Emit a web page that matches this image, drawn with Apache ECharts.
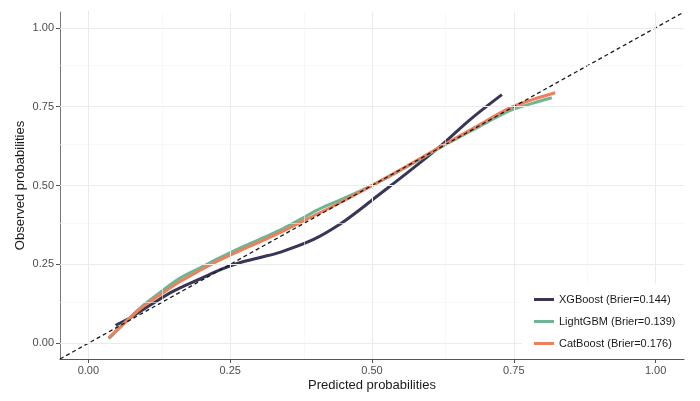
<!DOCTYPE html>
<html>
<head>
<meta charset="utf-8">
<script src="https://cdn.jsdelivr.net/npm/echarts@6/dist/echarts.min.js"></script>
<style>
  html, body { margin: 0; padding: 0; background: #fff; }
  #chart { width: 700px; height: 401px; }
</style>
</head>
<body>
<div id="chart"></div>
<script>
// calibration curves: [predicted, observed]
var xgboost = [[0.048,0.057],[0.074,0.081],[0.11,0.122],[0.15,0.165],[0.198,0.205],[0.235,0.235],[0.268,0.256],[0.303,0.272],[0.339,0.289],[0.397,0.329],[0.444,0.378],[0.479,0.424],[0.503,0.458],[0.562,0.54],[0.62,0.624],[0.673,0.709],[0.729,0.788]];
var lightgbm = [[0.036,0.014],[0.065,0.066],[0.092,0.113],[0.13,0.166],[0.163,0.208],[0.198,0.24],[0.233,0.272],[0.268,0.302],[0.303,0.33],[0.345,0.365],[0.386,0.405],[0.415,0.432],[0.445,0.455],[0.503,0.503],[0.56,0.558],[0.62,0.62],[0.68,0.678],[0.743,0.737],[0.784,0.761],[0.817,0.778]];
var catboost = [[0.036,0.018],[0.065,0.066],[0.092,0.11],[0.13,0.158],[0.163,0.197],[0.198,0.232],[0.233,0.265],[0.268,0.294],[0.303,0.322],[0.345,0.357],[0.386,0.394],[0.445,0.447],[0.503,0.503],[0.56,0.56],[0.62,0.622],[0.68,0.683],[0.743,0.746],[0.784,0.773],[0.823,0.794]];
var diagonal = [[-0.05,-0.05],[1.05,1.05]];
var seriesNames = ['XGBoost (Brier=0.144)','LightGBM (Brier=0.139)','CatBoost (Brier=0.176)'];
var majorTicks = [0, 0.25, 0.5, 0.75, 1];
var minorTicks = [0.125, 0.375, 0.625, 0.875];

var colors = ['#363656', '#6fb593', '#ef7f5c'];

var gridLines = [];
majorTicks.forEach(function(v){
  gridLines.push({xAxis: v, lineStyle: {type: 'solid', width: 1, color: '#ebebeb'}});
  gridLines.push({yAxis: v, lineStyle: {type: 'solid', width: 1, color: '#ebebeb'}});
});
minorTicks.forEach(function(v){
  gridLines.push({xAxis: v, lineStyle: {type: 'solid', width: 0.6, color: '#f3f3f3'}});
  gridLines.push({yAxis: v, lineStyle: {type: 'solid', width: 0.6, color: '#f3f3f3'}});
});

function fmt(v){ return v.toFixed(2); }

var myChart = echarts.init(document.getElementById('chart'));
var option = {
  animation: false,
  backgroundColor: '#fff',
  grid: { left: 60, top: 12, right: 16, bottom: 42 },
  xAxis: [{
    type: 'value', min: -0.05, max: 1.05,
    name: 'Predicted probabilities', nameLocation: 'middle', nameGap: 26, nameMoveOverlap: false,
    nameTextStyle: { color: '#1a1a1a', fontSize: 13, fontFamily: 'Liberation Sans', verticalAlign: 'middle' },
    axisLine: { show: true, onZero: false, lineStyle: { color: '#555', width: 1 } },
    axisTick: { show: true, length: 4, customValues: majorTicks, lineStyle: { color: '#555' } },
    axisLabel: { customValues: majorTicks, formatter: fmt, color: '#4d4d4d', fontSize: 11, margin: 6, fontFamily: 'Liberation Sans' },
    splitLine: { show: false }
  }, {
    type: 'value', min: -0.05, max: 1.05, position: 'top',
    axisLine: { show: true, lineStyle: { color: '#b3b3b3', width: 1 } },
    axisTick: { show: false }, axisLabel: { show: false }, splitLine: { show: false }
  }],
  yAxis: [{
    type: 'value', min: -0.05, max: 1.05,
    name: 'Observed probabilities', nameLocation: 'middle', nameGap: 40, nameMoveOverlap: false,
    nameTextStyle: { color: '#1a1a1a', fontSize: 13, fontFamily: 'Liberation Sans', verticalAlign: 'middle' },
    axisLine: { show: true, onZero: false, lineStyle: { color: '#777', width: 1 } },
    axisTick: { show: true, length: 4, customValues: majorTicks, lineStyle: { color: '#555' } },
    axisLabel: { customValues: majorTicks, formatter: fmt, color: '#4d4d4d', fontSize: 11, margin: 6, fontFamily: 'Liberation Sans' },
    splitLine: { show: false }
  }, {
    type: 'value', min: -0.05, max: 1.05, position: 'right',
    axisLine: { show: true, lineStyle: { color: '#b3b3b3', width: 1 } },
    axisTick: { show: false }, axisLabel: { show: false }, splitLine: { show: false }
  }],
  legend: {
    orient: 'vertical', left: 522, top: 284, z: 20,
    data: seriesNames,
    icon: 'rect', itemWidth: 20, itemHeight: 3, itemGap: 11,
    backgroundColor: '#fff', padding: [10, 12, 10, 12],
    textStyle: { color: '#1a1a1a', fontSize: 11, fontFamily: 'Liberation Sans' }
  },
  series: [
    {
      type: 'line', name: 'grid', data: [], silent: true,
      markLine: { silent: true, symbol: 'none', label: { show: false }, animation: false,
        lineStyle: { type: 'solid', color: '#ebebeb' }, data: gridLines },
      z: 0
    },
    { type: 'line', name: seriesNames[0], data: xgboost, smooth: 0.35, showSymbol: false,
      lineStyle: { color: colors[0], width: 3 }, itemStyle: { color: colors[0] }, z: 3 },
    { type: 'line', name: seriesNames[1], data: lightgbm, smooth: 0.35, showSymbol: false,
      lineStyle: { color: colors[1], width: 3 }, itemStyle: { color: colors[1] }, z: 3 },
    { type: 'line', name: seriesNames[2], data: catboost, smooth: 0.35, showSymbol: false,
      lineStyle: { color: colors[2], width: 3 }, itemStyle: { color: colors[2] }, z: 3 },
    { type: 'line', name: 'diag', data: diagonal, showSymbol: false, silent: true,
      lineStyle: { color: '#1a1a1a', width: 1.3, type: [4, 3] }, z: 4 }
  ]
};
myChart.setOption(option);
</script>
</body>
</html>
